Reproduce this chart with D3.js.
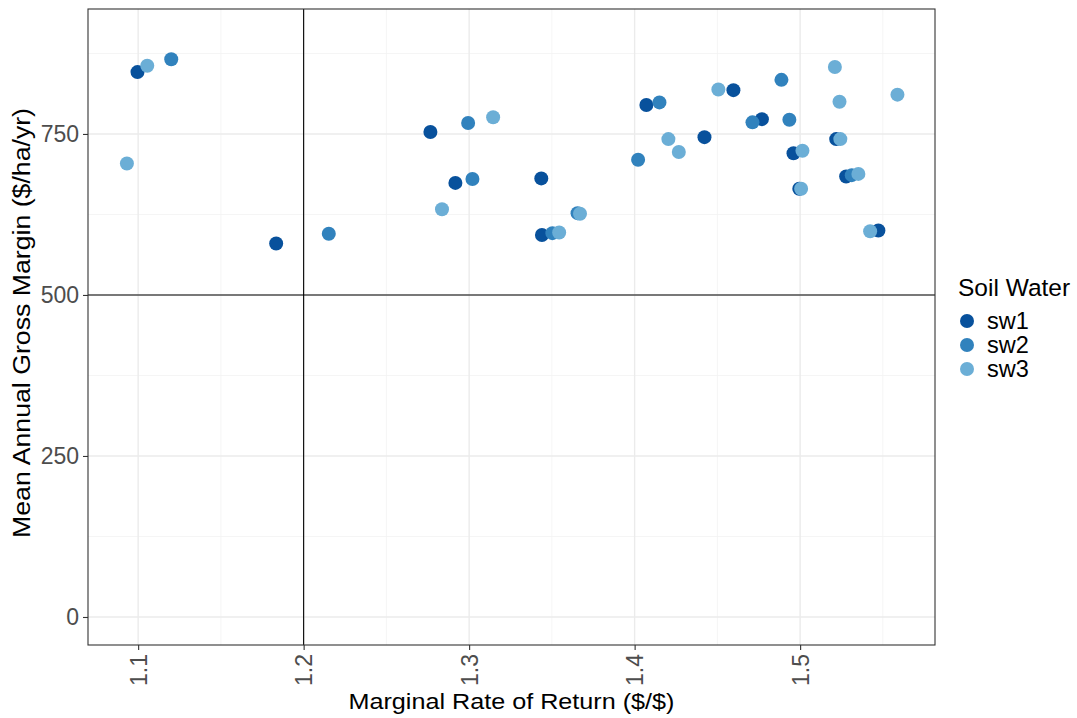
<!DOCTYPE html>
<html>
<head>
<meta charset="utf-8">
<script src="https://cdn.jsdelivr.net/npm/d3@7"></script>
<style>
  body { margin: 0; background: #fff; }
  text { font-family: "Liberation Sans", Arial, sans-serif; }
</style>
</head>
<body>
<div id="chart"></div>
<script>
// data
var groups = ["sw1", "sw2", "sw3"];
var groupColors = ["#08519c", "#3182bd", "#6baed6"];

var sw1 = [
  [1.0996, 846], [1.1834, 580], [1.2766, 753], [1.2917, 674], [1.3436, 681],
  [1.3440, 593], [1.4071, 795], [1.4597, 818], [1.4769, 773], [1.4422, 745],
  [1.5218, 742], [1.4960, 720], [1.5278, 684], [1.4995, 665], [1.5473, 600]
];
var sw2 = [
  [1.1200, 866], [1.2152, 595], [1.2994, 767], [1.3020, 680], [1.3503, 596],
  [1.3655, 627], [1.4150, 799], [1.4887, 834], [1.4712, 768], [1.4935, 772],
  [1.4021, 710], [1.5312, 686]
];
var sw3 = [
  [1.1055, 856], [1.0932, 704], [1.3145, 776], [1.2836, 633], [1.3670, 626],
  [1.3544, 597], [1.4506, 819], [1.5210, 854], [1.5238, 800], [1.5588, 811],
  [1.4204, 742], [1.4267, 722], [1.5243, 742], [1.5014, 724], [1.5352, 688],
  [1.5006, 665], [1.5423, 599]
];
var xTicks = [1.1, 1.2, 1.3, 1.4, 1.5];
var xMinor = [1.15, 1.25, 1.35, 1.45, 1.55];
var yTicks = [0, 250, 500, 750];
var yMinor = [125, 375, 625, 875];
var refX = 1.2, refY = 500;

var series = [sw1, sw2, sw3];

var W = 1077, H = 718;
var margin = {top: 9, right: 142, bottom: 73, left: 88},
    width = W - margin.left - margin.right,
    height = H - margin.top - margin.bottom;

var svg = d3.select("#chart")
  .append("svg")
    .attr("width", W)
    .attr("height", H)
  .append("g")
    .attr("transform", "translate(" + margin.left + "," + margin.top + ")");

var x = d3.scaleLinear().domain([1.0697, 1.5815]).range([0, width]);
var y = d3.scaleLinear().domain([-43.5, 944]).range([height, 0]);
var color = d3.scaleOrdinal().domain(groups).range(groupColors);

// minor grid
svg.selectAll("xminor").data(xMinor).enter().append("line")
  .attr("x1", d => x(d)).attr("x2", d => x(d))
  .attr("y1", 0).attr("y2", height)
  .attr("stroke", "#f2f2f2").attr("stroke-width", 0.8);
svg.selectAll("yminor").data(yMinor).enter().append("line")
  .attr("y1", d => y(d)).attr("y2", d => y(d))
  .attr("x1", 0).attr("x2", width)
  .attr("stroke", "#f2f2f2").attr("stroke-width", 0.8);
// major grid
svg.selectAll("xmajor").data(xTicks).enter().append("line")
  .attr("x1", d => x(d)).attr("x2", d => x(d))
  .attr("y1", 0).attr("y2", height)
  .attr("stroke", "#ebebeb").attr("stroke-width", 1.4);
svg.selectAll("ymajor").data(yTicks).enter().append("line")
  .attr("y1", d => y(d)).attr("y2", d => y(d))
  .attr("x1", 0).attr("x2", width)
  .attr("stroke", "#ebebeb").attr("stroke-width", 1.4);

// reference lines
svg.append("line")
  .attr("x1", x(refX)).attr("x2", x(refX))
  .attr("y1", 0).attr("y2", height)
  .attr("stroke", "#000").attr("stroke-width", 1.1);
svg.append("line")
  .attr("x1", 0).attr("x2", width)
  .attr("y1", y(refY)).attr("y2", y(refY))
  .attr("stroke", "#000").attr("stroke-width", 1.1);

// points
series.forEach(function(s, i) {
  svg.selectAll("pt" + i).data(s).enter().append("circle")
    .attr("cx", d => x(d[0]))
    .attr("cy", d => y(d[1]))
    .attr("r", 7)
    .style("fill", color(groups[i]));
});

// panel border
svg.append("rect")
  .attr("width", width).attr("height", height)
  .attr("fill", "none").attr("stroke", "#333").attr("stroke-width", 1.1);

// axes
var xAxis = svg.append("g")
  .attr("transform", "translate(0," + height + ")")
  .call(d3.axisBottom(x).tickValues(xTicks).tickSize(5).tickPadding(4).tickFormat(d3.format(".1f")));
xAxis.select(".domain").remove();
xAxis.selectAll("line").attr("stroke", "#333").attr("stroke-width", 1.1);
xAxis.selectAll("text")
  .attr("transform", "rotate(-90)")
  .attr("x", -9).attr("y", 0).attr("dy", "0.35em")
  .style("text-anchor", "end")
  .style("font-size", "23px")
  .attr("fill", "#4d4d4d");

var yAxis = svg.append("g")
  .call(d3.axisLeft(y).tickValues(yTicks).tickSize(5).tickPadding(4));
yAxis.select(".domain").remove();
yAxis.selectAll("line").attr("stroke", "#333").attr("stroke-width", 1.1);
yAxis.selectAll("text")
  .style("font-size", "23px")
  .attr("fill", "#4d4d4d");

// axis titles
svg.append("text")
  .attr("x", width / 2).attr("y", height + 64)
  .attr("text-anchor", "middle")
  .attr("textLength", 326)
  .attr("lengthAdjust", "spacingAndGlyphs")
  .style("font-size", "21.5px")
  .text("Marginal Rate of Return ($/$)");
svg.append("text")
  .attr("transform", "translate(" + (-58.5) + "," + (314) + ") rotate(-90)")
  .attr("text-anchor", "middle")
  .attr("textLength", 430)
  .attr("lengthAdjust", "spacingAndGlyphs")
  .style("font-size", "23px")
  .text("Mean Annual Gross Margin ($/ha/yr)");

// legend
var legend = svg.append("g").attr("transform", "translate(" + (width + 12) + ",0)");
legend.append("text")
  .attr("x", 11).attr("y", 287)
  .style("font-size", "24.5px")
  .text("Soil Water");
groups.forEach(function(g, i) {
  legend.append("circle")
    .attr("cx", 20).attr("cy", 312 + i * 24).attr("r", 7)
    .style("fill", color(g));
  legend.append("text")
    .attr("x", 40).attr("y", 312 + i * 24).attr("dy", "0.35em")
    .style("font-size", "23.5px")
    .text(g);
});
</script>
</body>
</html>
